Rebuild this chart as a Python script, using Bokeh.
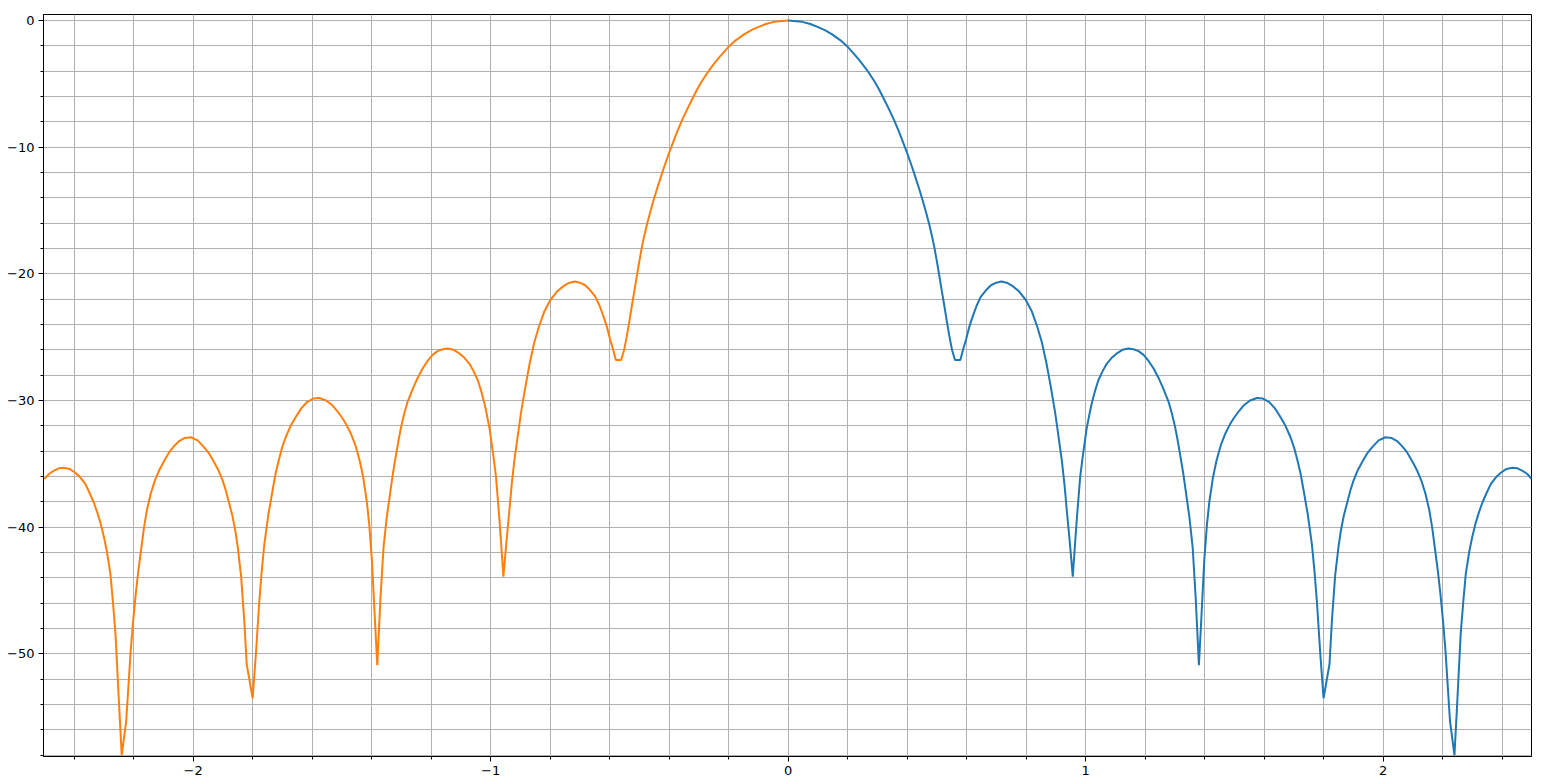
from bokeh.plotting import figure
from bokeh.models import Range1d, SingleIntervalTicker
from bokeh.embed import file_html
from bokeh.resources import INLINE

# right half of the pattern, left half is its mirror
angle = [0, 0.047, 0.075, 0.103, 0.125, 0.148, 0.175, 0.201, 0.22, 0.238, 0.255, 0.272,
         0.29, 0.306, 0.322, 0.339, 0.356, 0.373, 0.387, 0.4, 0.412, 0.425, 0.44, 0.453,
         0.465, 0.475, 0.484, 0.492, 0.5, 0.508, 0.516, 0.525, 0.533, 0.542, 0.551, 0.561,
         0.579, 0.588, 0.598, 0.609, 0.62, 0.634, 0.648, 0.665, 0.682, 0.7, 0.717, 0.735,
         0.754, 0.777, 0.8, 0.82, 0.838, 0.853, 0.868, 0.883, 0.898, 0.91, 0.92, 0.929,
         0.937, 0.947, 0.957, 0.964, 0.971, 0.982, 0.99, 1.003, 1.012, 1.02, 1.031, 1.043,
         1.057, 1.071, 1.087, 1.104, 1.124, 1.144, 1.161, 1.178, 1.195, 1.211, 1.228, 1.245,
         1.262, 1.279, 1.29, 1.301, 1.31, 1.318, 1.328, 1.337, 1.349, 1.36, 1.37, 1.381,
         1.39, 1.399, 1.408, 1.416, 1.428, 1.44, 1.455, 1.47, 1.485, 1.498, 1.515, 1.531,
         1.553, 1.576, 1.596, 1.616, 1.636, 1.655, 1.672, 1.689, 1.702, 1.713, 1.723, 1.733,
         1.747, 1.761, 1.77, 1.778, 1.789, 1.8, 1.82, 1.828, 1.839, 1.85, 1.858, 1.868,
         1.879, 1.89, 1.901, 1.915, 1.929, 1.946, 1.963, 1.985, 2.008, 2.028, 2.047, 2.064,
         2.081, 2.098, 2.115, 2.13, 2.143, 2.155, 2.165, 2.175, 2.185, 2.193, 2.202, 2.21,
         2.225, 2.24, 2.249, 2.261, 2.27, 2.278, 2.29, 2.3, 2.311, 2.322, 2.334, 2.348,
         2.362, 2.378, 2.396, 2.415, 2.435, 2.452, 2.469, 2.485, 2.5]
level_db = [0, -0.11, -0.28, -0.55, -0.79, -1.1, -1.55, -2.1, -2.6, -3.1, -3.6, -4.15,
            -4.8, -5.45, -6.2, -7.0, -7.85, -8.8, -9.65, -10.45, -11.25, -12.15, -13.25, -14.25,
            -15.25, -16.15, -17.05, -17.95, -19.0, -20.1, -21.25, -22.5, -23.65, -24.9, -26.0, -26.8,
            -26.8, -26.0, -25.2, -24.2, -23.4, -22.5, -21.8, -21.3, -20.9, -20.7, -20.6, -20.7,
            -20.95, -21.4, -22.1, -23.0, -24.2, -25.4, -27.0, -28.9, -31.0, -33.0, -34.7, -36.6,
            -38.7, -41.2, -43.9, -41.5, -39.2, -36.0, -34.5, -32.3, -31.2, -30.3, -29.3, -28.4,
            -27.7, -27.1, -26.65, -26.3, -26.0, -25.9, -25.95, -26.1, -26.4, -26.85, -27.45, -28.2,
            -29.1, -30.1, -31.0, -32.1, -33.2, -34.3, -35.7, -37.2, -39.2, -41.6, -45.5, -50.9,
            -46.8, -42.6, -39.8, -38.0, -36.1, -34.75, -33.5, -32.6, -31.9, -31.4, -30.85, -30.4,
            -30.0, -29.8, -29.85, -30.1, -30.6, -31.3, -32.0, -32.9, -33.8, -34.8, -35.8, -37.1,
            -39.0, -41.4, -43.6, -46.0, -50.0, -53.5, -50.8, -47.4, -43.8, -41.6, -40.3, -39.1,
            -38.1, -37.1, -36.3, -35.5, -34.9, -34.2, -33.7, -33.15, -32.9, -32.95, -33.2, -33.6,
            -34.1, -34.8, -35.55, -36.4, -37.4, -38.6, -40.0, -41.8, -43.6, -45.3, -47.5, -49.8,
            -55.3, -58.0, -54.0, -48.4, -45.8, -43.7, -41.9, -40.75, -39.7, -38.85, -38.05, -37.3,
            -36.6, -36.1, -35.7, -35.4, -35.3, -35.35, -35.55, -35.8, -36.2]
angle_neg = [-a for a in angle]

x_ticks = [-2, -1, 0, 1, 2]
y_ticks = [0, -10, -20, -30, -40, -50]

p = figure(frame_width=1488, frame_height=742, output_backend="svg", toolbar_location=None,
           tools="", x_range=Range1d(-2.503, 2.499), y_range=Range1d(-58.1, 0.47),
           min_border_left=43, min_border_top=14, min_border_right=12, min_border_bottom=22)

p.line(angle, level_db, line_color="#1f77b4", line_width=2)
p.line(angle_neg, level_db, line_color="#ff7f0e", line_width=2)

p.xaxis.ticker = SingleIntervalTicker(interval=1, num_minor_ticks=5)
p.yaxis.ticker = SingleIntervalTicker(interval=10, num_minor_ticks=5)
p.xaxis.major_label_overrides = {t: str(t).replace("-", "\u2212") for t in x_ticks}
p.yaxis.major_label_overrides = {t: str(t).replace("-", "\u2212") for t in y_ticks}

for ax in (p.xaxis, p.yaxis):
    ax.major_label_text_font = "DejaVu Sans"
    ax.major_label_text_font_size = "13px"
    ax.major_label_text_color = "black"
    ax.axis_line_color = "black"
    ax.major_tick_line_color = "black"
    ax.minor_tick_line_color = "black"
    ax.major_tick_in = 0
    ax.major_tick_out = 5
    ax.minor_tick_in = 0
    ax.minor_tick_out = 3
    ax.major_label_standoff = 4

for g in (p.xgrid, p.ygrid):
    g.grid_line_color = "#b0b0b0"
    g.minor_grid_line_color = "#b0b0b0"
    g.grid_line_width = 1
    g.minor_grid_line_width = 1

p.outline_line_color = "black"
p.outline_line_width = 1
p.background_fill_color = "white"

open("out.html", "w").write(file_html(p, INLINE))
